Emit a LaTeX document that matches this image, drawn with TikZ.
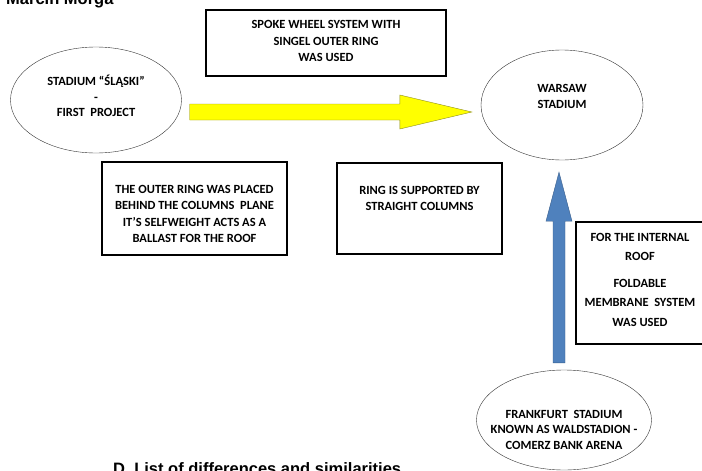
\documentclass[tikz,border=0pt]{standalone}
\usepackage{fontspec}
\setmainfont{Carlito}
\newfontfamily\headfont{Liberation Sans}
\usetikzlibrary{shapes.geometric, calc}

\definecolor{arrowyellow}{HTML}{FFFF00}
\definecolor{yellowedge}{HTML}{8C8C1E}
\definecolor{arrowblue}{HTML}{4F81BD}
\definecolor{blueedge}{HTML}{385D8A}

\tikzset{
	stadium/.style = {ellipse, draw = black!80, thin, align = center, inner sep = 0pt,
		font = \bfseries\fontsize{12.5}{15.5}\selectfont},
	notebox/.style = {rectangle, draw, line width = 1.1pt, align = center, inner sep = 0pt,
		font = \bfseries\fontsize{12.5}{16.5}\selectfont},
	heading/.style = {anchor = base west, inner sep = 0pt,
		font = \headfont\bfseries\fontsize{16.5}{19}\selectfont},
	yellowarrow/.style = {fill = arrowyellow, draw = yellowedge, thin},
	bluearrow/.style = {fill = arrowblue, draw = blueedge, thin}
}

\begin{document}
\begin{tikzpicture}[x = 1pt, y = -1pt]
	
	% Page
	
	\useasboundingbox (0, 0) rectangle (702, 471);
	
	% Headings cut by the page edge
	
	\node (author) [heading] at (6, 4.5) {Marcin Morga};
	\node (listhead) [heading] at (113, 474) {D. List of differences and similarities};
	
	% Stadiums
	
	\node (slaski) [stadium, minimum width = 171pt, minimum height = 106pt] at (96, 100)
		{STADIUM “ŚLĄSKI”\\-\\FIRST\ \ PROJECT\rule[-8pt]{0pt}{8pt}};
	\node (warsaw) [stadium, minimum width = 162pt, minimum height = 110pt] at (562, 105)
		{WARSAW\\STADIUM\rule[-17pt]{0pt}{17pt}};
	\node (frankfurt) [stadium, inner xsep = -14pt, minimum width = 175pt, minimum height = 100pt] at (564, 420)
		{\rule{0pt}{28pt}FRANKFURT\ \ STADIUM\\KNOWN AS WALDSTADION -\\COMERZ BANK ARENA};
	
	% Notes
	
	\node (spoke) [notebox, minimum width = 240pt, minimum height = 66pt] at (326, 43)
		{SPOKE WHEEL SYSTEM WITH\\SINGEL OUTER RING\\WAS USED\rule[-4pt]{0pt}{4pt}};
	\node (outer) [notebox, minimum width = 185pt, minimum height = 93pt] at (194.5, 208.5)
		{\rule{0pt}{19pt}THE OUTER RING WAS PLACED\\BEHIND THE COLUMNS\ \ PLANE\\IT’S SELFWEIGHT ACTS AS A\\BALLAST FOR THE ROOF};
	\node (ring) [notebox, minimum width = 165pt, minimum height = 91pt] at (419.5, 208.5)
		{RING IS SUPPORTED BY\\STRAIGHT COLUMNS\rule[-20pt]{0pt}{20pt}};
	\node (foldable) [notebox, minimum width = 128pt, minimum height = 122pt, font = \bfseries\fontsize{12.5}{19.5}\selectfont] at (640, 283)
		{FOR THE INTERNAL\\ROOF\\[7pt]FOLDABLE\\MEMBRANE\ \ SYSTEM\\WAS USED\rule[-7pt]{0pt}{7pt}};
	
	% Block arrow from Slaski to Warsaw
	
	\coordinate (ytail) at ($(slaski.east) + (8, 12)$);
	\coordinate (ytip) at ($(warsaw.west) + (-9, 7)$);
	\filldraw [yellowarrow] ($(ytail) + (0, -8)$) -- ($(ytip) + (-72, -8)$)
		-- ($(ytip) + (-72, -17)$) -- (ytip) -- ($(ytip) + (-72, 17)$)
		-- ($(ytip) + (-72, 8)$) -- ($(ytail) + (0, 8)$) -- cycle;
	
	% Block arrow from Frankfurt to Warsaw
	
	\coordinate (btail) at ($(frankfurt.north) + (-5, -7)$);
	\coordinate (btip) at ($(warsaw.south) + (-3, 12)$);
	\filldraw [bluearrow] ($(btail) + (-6, 0)$) -- ($(btip) + (-6, 49)$)
		-- ($(btip) + (-13, 49)$) -- (btip) -- ($(btip) + (13, 49)$)
		-- ($(btip) + (6, 49)$) -- ($(btail) + (6, 0)$) -- cycle;

\end{tikzpicture}
\end{document}
